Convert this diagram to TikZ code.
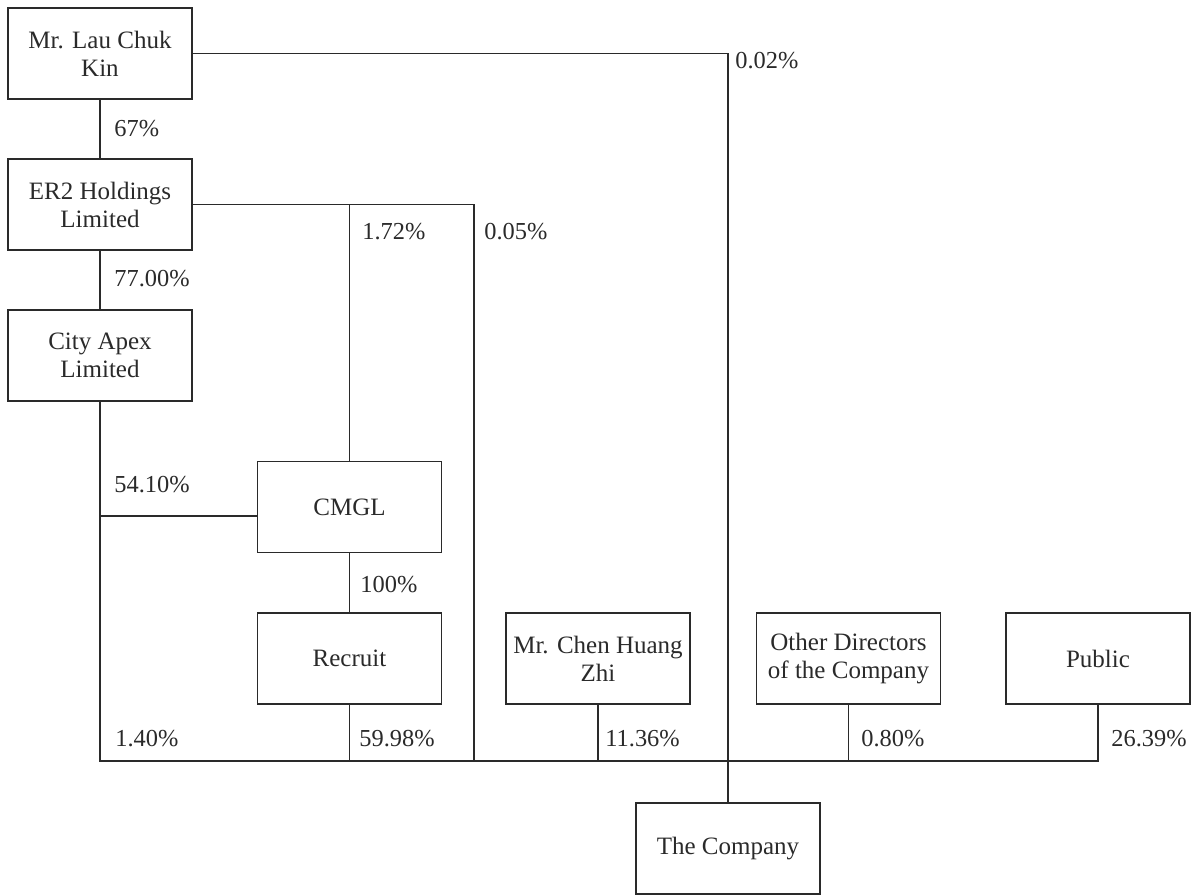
\documentclass[tikz,border=0pt]{standalone}
\usepackage{fontspec}
\setmainfont{Liberation Serif}
\definecolor{ink}{HTML}{2A2A2A}
\begin{document}
\begin{tikzpicture}[x=0.5pt,y=-0.5pt,
  box/.style={draw=ink, line width=0.7pt, minimum width=92pt, minimum height=45.5pt, inner sep=0pt, align=center, text=ink, font=\fontsize{12.5}{14}\selectfont},
  pct/.style={anchor=base west, inner sep=0pt, text=ink, font=\fontsize{12.2}{14}\selectfont},
  conn/.style={draw=ink, line width=0.7pt}]
\useasboundingbox (0,0) rectangle (1195,895);
% boxes
\node[box] (lau) at (100,53.5) {Mr. Lau Chuk\\Kin};
\node[box] (er2) at (100,204.5) {ER2 Holdings\\Limited};
\node[box] (city) at (100,355.5) {City Apex\\Limited};
\node[box] (cmgl) at (349.5,507) {CMGL};
\node[box] (recruit) at (349.5,658.5) {Recruit};
\node[box] (chen) at (598,658.5) {Mr. Chen Huang\\Zhi};
\node[box] (other) at (848.5,658.5) {Other Directors\\of the Company};
\node[box] (public) at (1098,658.5) {Public};
\node[box] (company) at (728,848.5) {The Company};
% helper coordinates
\coordinate (bus) at (0,761);
\coordinate (r05) at (474,0);
% connectors
\draw[conn] (lau.south) -- (er2.north);
\draw[conn] (er2.south) -- (city.north);
\draw[conn] (lau.east) -- (lau.east -| company.north) -- (company.north);
\draw[conn] (er2.east) -- (er2.east -| r05) -- (r05 |- bus);
\draw[conn] (cmgl.north |- er2.east) -- (cmgl.north);
\draw[conn] (city.south) -- (city.south |- bus) -- (public.south |- bus) -- (public.south);
\draw[conn] (city.south |- 0,516) -- (cmgl.west |- 0,516);
\draw[conn] (cmgl.south) -- (recruit.north);
\draw[conn] (recruit.south) -- (recruit.south |- bus);
\draw[conn] (chen.south) -- (chen.south |- bus);
\draw[conn] (other.south) -- (other.south |- bus);
% labels
\node[pct] (p002) at (735,68) {0.02\%};
\node[pct] (p67) at (114,136) {67\%};
\node[pct] (p77) at (114,286) {77.00\%};
\node[pct] (p172) at (362,239) {1.72\%};
\node[pct] (p005) at (484,239) {0.05\%};
\node[pct] (p5410) at (114,492) {54.10\%};
\node[pct] (p100) at (360,592) {100\%};
\node[pct] (p140) at (115,746) {1.40\%};
\node[pct] (p5998) at (359,746) {59.98\%};
\node[pct] (p1136) at (605,746) {11.36\%};
\node[pct] (p080) at (861,746) {0.80\%};
\node[pct] (p2639) at (1111,746) {26.39\%};
\end{tikzpicture}
\end{document}
